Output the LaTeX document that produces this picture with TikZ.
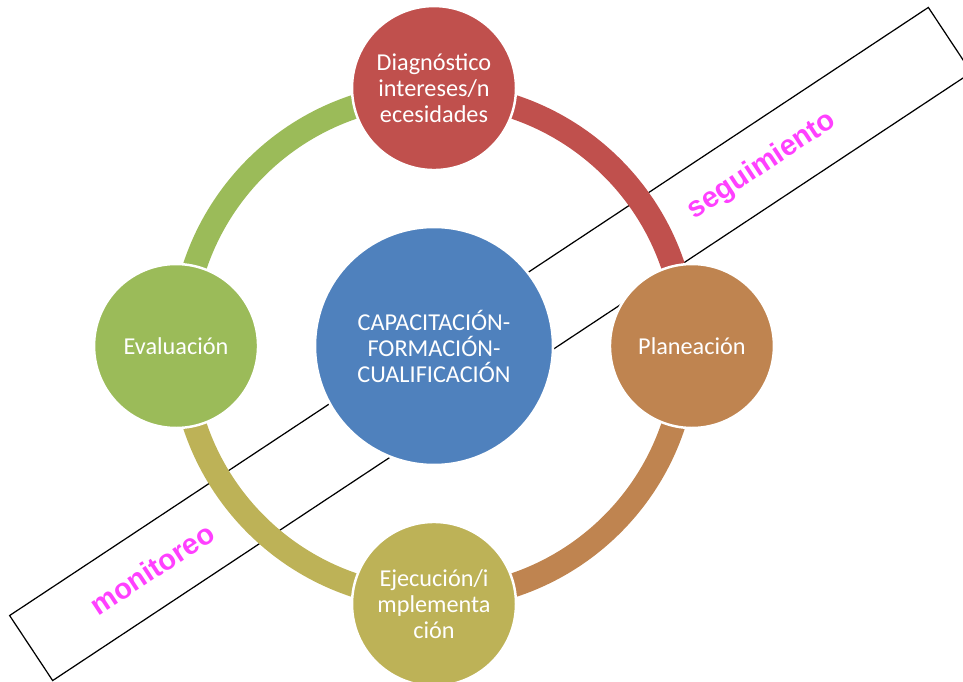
\documentclass[tikz,border=0pt]{standalone}
\usepackage{fontspec}
\setmainfont{Carlito}
\newfontfamily\bandFont{Liberation Sans}
\usetikzlibrary{positioning}
\definecolor{coreColor}{HTML}{4F81BD}
\definecolor{diagColor}{HTML}{C0504D}
\definecolor{planColor}{HTML}{BF8450}
\definecolor{ejecColor}{HTML}{BDB257}
\definecolor{evalColor}{HTML}{9BBB59}
\definecolor{bandMagenta}{HTML}{FF40FF}
\tikzstyle{diagram} = [x = .02cm, y = -.02cm, node distance = 5.16cm, on grid]
\tikzstyle{phaseStyle} = [circle, draw=white, line width=1.4pt, minimum size=3.28cm, inner sep=0pt, text=white, align=center, font=\fontsize{13.8}{14.8}\selectfont]
\tikzstyle{coreStyle} = [phaseStyle, fill=coreColor, minimum size=4.76cm]
\tikzstyle{ringArc} = [line width=13.6pt]
\tikzstyle{bandStyle} = [draw=black, line width=.7pt, rotate=33.5, minimum width=22.04cm, minimum height=1.56cm, inner sep=0pt]
\tikzstyle{bandText} = [text=bandMagenta, font=\bandFont\bfseries\fontsize{16.5}{18}\selectfont, rotate=33.5]
\newcommand{\ringRadius}{252}
\newcommand{\cycleArc}[3]{\draw [ringArc, color=#1] ([shift={(#2:\ringRadius)}]core.center) arc [start angle=#2, end angle=#3, radius=\ringRadius];}
\newcommand{\phaseCircle}[4]{\node [phaseStyle, fill=#2, #3] (#1) {#4};}
\begin{document}
\begin{tikzpicture}[diagram]
  \useasboundingbox (0,0) rectangle (963,682);
  \clip (0,0) rectangle (963,682);
  \node [bandStyle] (band) at (490.5,344) {};
  \node [coreStyle] (core) at (434,346) {CAPACITACIÓN-\\FORMACIÓN-\\CUALIFICACIÓN};
  % ring between the phases
  \cycleArc{diagColor}{-90}{0}
  \cycleArc{planColor}{0}{90}
  \cycleArc{ejecColor}{90}{180}
  \cycleArc{evalColor}{180}{270}
  % phases
  \phaseCircle{diag}{diagColor}{above=of core}{Diagnóstico\\intereses/n\\ecesidades}
  \phaseCircle{plan}{planColor}{right=of core}{Planeación}
  \phaseCircle{ejec}{ejecColor}{below=of core}{Ejecución/i\\mplementa\\ción}
  \phaseCircle{eval}{evalColor}{left=of core}{Evaluación}
  \node [bandText] (seguimiento) at (762,166) {seguimiento};
  \node [bandText] (monitoreo) at (152,569) {monitoreo};
\end{tikzpicture}
\end{document}
